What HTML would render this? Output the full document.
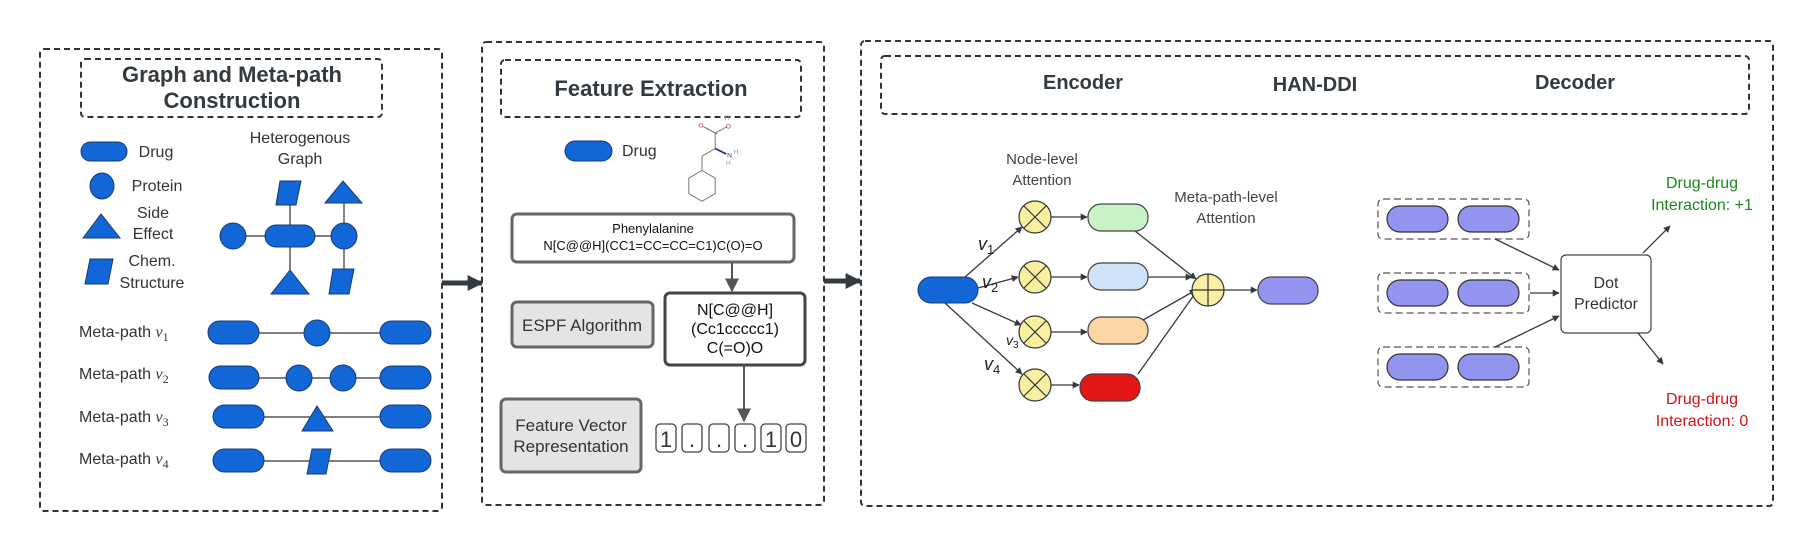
<!DOCTYPE html>
<html><head><meta charset="utf-8"><style>
html,body{margin:0;padding:0;background:#fff}
svg{display:block}
text{font-family:"Liberation Sans",sans-serif}
</style></head><body>
<svg width="1807" height="549" viewBox="0 0 1807 549" xmlns="http://www.w3.org/2000/svg">
<defs>
<marker id="a" viewBox="0 0 10 10" refX="9" refY="5" markerWidth="7" markerHeight="7" orient="auto" markerUnits="userSpaceOnUse"><path d="M0,0 L10,5 L0,10 z" fill="#333a40"/></marker>
<marker id="ab" viewBox="0 0 10 10" refX="9" refY="5" markerWidth="16" markerHeight="16" orient="auto" markerUnits="userSpaceOnUse"><path d="M0,0 L10,5 L0,10 z" fill="#333a40"/></marker>
<marker id="ag" viewBox="0 0 10 10" refX="9" refY="5" markerWidth="14" markerHeight="14" orient="auto" markerUnits="userSpaceOnUse"><path d="M0,0 L10,5 L0,10 z" fill="#555"/></marker>
</defs>
<g fill="none" stroke="#333" stroke-width="2" stroke-dasharray="6,4">
<rect x="40" y="49" width="402" height="462" rx="4"/>
<rect x="81" y="59" width="301" height="58" rx="4"/>
<rect x="482" y="42" width="342" height="463" rx="4"/>
<rect x="501" y="60" width="300" height="57" rx="4"/>
<rect x="861" y="41" width="912" height="465" rx="4"/>
<rect x="881" y="56" width="868" height="58" rx="4"/>
</g>
<g fill="#333a40" font-weight="bold" text-anchor="middle">
<text x="232" y="82" font-size="22">Graph and Meta-path</text>
<text x="232" y="108" font-size="22">Construction</text>
<text x="651" y="96" font-size="22">Feature Extraction</text>
<text x="1083" y="89" font-size="20">Encoder</text>
<text x="1315" y="91" font-size="20">HAN-DDI</text>
<text x="1575" y="89" font-size="20">Decoder</text>
</g>
<g fill="#1167d8" stroke="#1a3a70" stroke-width="1">
<rect x="81" y="142" width="46" height="19" rx="9.5"/>
<ellipse cx="102" cy="186" rx="12" ry="13"/>
<path d="M83,238 L101,214 L120,238 z"/>
<path d="M90,259 L113,259 L108,284 L85,284 z"/>
</g>
<g fill="#333" font-size="16" text-anchor="middle">
<text x="156" y="157">Drug</text>
<text x="157" y="191">Protein</text>
<text x="153" y="218">Side</text>
<text x="153" y="239">Effect</text>
<text x="152" y="266">Chem.</text>
<text x="152" y="288">Structure</text>
<text x="300" y="143">Heterogenous</text>
<text x="300" y="164">Graph</text>
</g>
<g stroke="#333" stroke-width="1.2">
<line x1="233" y1="236" x2="344" y2="236"/>
<line x1="290" y1="200" x2="290" y2="275"/>
<line x1="344" y1="200" x2="344" y2="275"/>
</g>
<g fill="#1167d8" stroke="#1a3a70" stroke-width="1">
<ellipse cx="233" cy="236" rx="13" ry="13"/>
<rect x="265" y="225" width="50" height="22" rx="11"/>
<ellipse cx="344" cy="236" rx="13" ry="13"/>
<path d="M280,181 L301,181 L296,205 L276,205 z"/>
<path d="M325,203 L343,181 L362,203 z"/>
<path d="M271,294 L290,270 L309,294 z"/>
<path d="M333,269 L354,269 L349,294 L329,294 z"/>
</g>
<g fill="#333" font-size="16">
<text x="79" y="337">Meta-path <tspan font-family="Liberation Serif" font-style="italic">v</tspan><tspan font-family="Liberation Serif" font-size="12" dy="4">1</tspan></text>
<text x="79" y="379">Meta-path <tspan font-family="Liberation Serif" font-style="italic">v</tspan><tspan font-family="Liberation Serif" font-size="12" dy="4">2</tspan></text>
<text x="79" y="422">Meta-path <tspan font-family="Liberation Serif" font-style="italic">v</tspan><tspan font-family="Liberation Serif" font-size="12" dy="4">3</tspan></text>
<text x="79" y="464">Meta-path <tspan font-family="Liberation Serif" font-style="italic">v</tspan><tspan font-family="Liberation Serif" font-size="12" dy="4">4</tspan></text>
</g>
<g stroke="#333" stroke-width="1.2">
<line x1="250" y1="333" x2="390" y2="333"/>
<line x1="250" y1="378" x2="390" y2="378"/>
<line x1="250" y1="417" x2="390" y2="417"/>
<line x1="250" y1="461" x2="390" y2="461"/>
</g>
<g fill="#1167d8" stroke="#1a3a70" stroke-width="1">
<rect x="208" y="321" width="51" height="23" rx="11.5"/><ellipse cx="317" cy="333" rx="13" ry="13"/><rect x="380" y="321" width="51" height="23" rx="11.5"/>
<rect x="209" y="366" width="50" height="23" rx="11.5"/><ellipse cx="299" cy="378" rx="13" ry="13"/><ellipse cx="343" cy="378" rx="13" ry="13"/><rect x="380" y="366" width="51" height="23" rx="11.5"/>
<rect x="213" y="405" width="51" height="23" rx="11.5"/><path d="M302,431 L317,406 L333,431 z"/><rect x="380" y="405" width="51" height="23" rx="11.5"/>
<rect x="213" y="449" width="51" height="23" rx="11.5"/><path d="M312,449 L331,449 L326,474 L307,474 z"/><rect x="380" y="449" width="51" height="23" rx="11.5"/>
</g>
<line x1="442" y1="283" x2="482" y2="283" stroke="#333a40" stroke-width="5" marker-end="url(#ab)"/>
<line x1="824" y1="281" x2="860" y2="281" stroke="#333a40" stroke-width="5" marker-end="url(#ab)"/>
<rect x="565" y="141" width="47" height="20" rx="10" fill="#1167d8" stroke="#1a3a70"/>
<text x="622" y="156" font-size="16" fill="#333">Drug</text>
<g transform="translate(702,165) scale(1.1) translate(-702,-165)">
<g stroke="#777" stroke-width="0.9" fill="none">
<polygon points="702,170 714,177 714,191 702,198 690,191 690,177"/>
<line x1="702" y1="170" x2="702" y2="157"/>
<line x1="702" y1="157" x2="714" y2="150"/>
<line x1="714" y1="150" x2="714" y2="136"/>
<line x1="714" y1="136" x2="725" y2="130"/>
<line x1="714" y1="136" x2="703" y2="130"/>
<line x1="716" y1="137" x2="705" y2="131"/>
</g>
<line x1="714" y1="150" x2="724" y2="155" stroke="#1a2a9a" stroke-width="1.6"/>
<g font-size="6" text-anchor="middle"><text x="701" y="131" fill="#c33">O</text><text x="726" y="132" fill="#c33">O</text><text x="725" y="124" fill="#999">H</text><text x="727" y="158" fill="#23a">N</text><text x="733" y="155" fill="#999">H</text><text x="726" y="165" fill="#999">H</text></g>
</g>
<rect x="512" y="214" width="282" height="48" rx="5" fill="#fff" stroke="#666" stroke-width="3"/>
<text x="653" y="219" font-size="13" fill="#111" text-anchor="middle" dy="14">Phenylalanine</text>
<text x="653" y="250" font-size="13" fill="#111" text-anchor="middle">N[C@@H](CC1=CC=CC=C1)C(O)=O</text>
<line x1="732" y1="262" x2="732" y2="291" stroke="#555" stroke-width="2" marker-end="url(#ag)"/>
<rect x="665" y="293" width="140" height="72" rx="5" fill="#fff" stroke="#444" stroke-width="3"/>
<g font-size="16" fill="#111" text-anchor="middle"><text x="735" y="315">N[C@@H]</text><text x="735" y="334">(Cc1ccccc1)</text><text x="735" y="353">C(=O)O</text></g>
<rect x="512" y="302" width="141" height="45" rx="5" fill="#e4e4e4" stroke="#666" stroke-width="3"/>
<text x="582" y="331" font-size="17" fill="#333" text-anchor="middle">ESPF Algorithm</text>
<line x1="744" y1="365" x2="744" y2="421" stroke="#555" stroke-width="2" marker-end="url(#ag)"/>
<rect x="501" y="399" width="140" height="73" rx="5" fill="#e4e4e4" stroke="#666" stroke-width="3"/>
<g font-size="17" fill="#333" text-anchor="middle"><text x="571" y="431">Feature Vector</text><text x="571" y="452">Representation</text></g>
<g fill="#fff" stroke="#444" stroke-width="1.3">
<rect x="656" y="424" width="20" height="28" rx="4"/><rect x="682" y="424" width="20" height="28" rx="4"/><rect x="709" y="424" width="20" height="28" rx="4"/><rect x="735" y="424" width="20" height="28" rx="4"/><rect x="761" y="424" width="20" height="28" rx="4"/><rect x="786" y="424" width="20" height="28" rx="4"/>
</g>
<g font-size="22" fill="#333" text-anchor="middle"><text x="666" y="447">1</text><text x="692" y="447">.</text><text x="719" y="447">.</text><text x="745" y="447">.</text><text x="771" y="447">1</text><text x="796" y="447">0</text></g>
<g fill="#444" font-size="15" text-anchor="middle">
<text x="1042" y="164">Node-level</text><text x="1042" y="185">Attention</text>
<text x="1226" y="202">Meta-path-level</text><text x="1226" y="223">Attention</text>
</g>
<g stroke="#333a40" stroke-width="1.3" fill="none" marker-end="url(#a)">
<line x1="965" y1="277" x2="1022" y2="227"/>
<line x1="978" y1="288" x2="1018" y2="277"/>
<line x1="972" y1="303" x2="1021" y2="325"/>
<line x1="945" y1="303" x2="1022" y2="374"/>
<line x1="1051" y1="217" x2="1087" y2="217"/>
<line x1="1051" y1="277" x2="1087" y2="277"/>
<line x1="1051" y1="332" x2="1087" y2="332"/>
<line x1="1051" y1="385" x2="1079" y2="385"/>
<line x1="1135" y1="231" x2="1196" y2="279"/>
<line x1="1148" y1="277" x2="1192" y2="277"/>
<line x1="1143" y1="320" x2="1196" y2="290"/>
<line x1="1138" y1="374" x2="1199" y2="288"/>
<line x1="1224" y1="290" x2="1257" y2="290"/>
</g>
<g font-family="Liberation Serif" font-style="italic" fill="#222">
<text x="978" y="250" font-size="18">v<tspan font-size="13" dy="4" font-style="normal">1</tspan></text>
<text x="982" y="288" font-size="18">v<tspan font-size="13" dy="4" font-style="normal">2</tspan></text>
<text x="1006" y="345" font-size="14">v<tspan font-size="10" dy="3" font-style="normal">3</tspan></text>
<text x="984" y="370" font-size="18">v<tspan font-size="13" dy="4" font-style="normal">4</tspan></text>
</g>
<rect x="918" y="277" width="60" height="26" rx="13" fill="#1167d8" stroke="#1a3a70"/>
<g fill="#f8f0a0" stroke="#333" stroke-width="1.2">
<circle cx="1035" cy="217" r="16"/><circle cx="1035" cy="277" r="16"/><circle cx="1035" cy="332" r="16"/><circle cx="1035" cy="385" r="16"/><circle cx="1208" cy="290" r="16"/>
</g>
<g stroke="#333" stroke-width="1.2">
<path d="M1024,206 L1046,228 M1046,206 L1024,228"/><path d="M1024,266 L1046,288 M1046,266 L1024,288"/><path d="M1024,321 L1046,343 M1046,321 L1024,343"/><path d="M1024,374 L1046,396 M1046,374 L1024,396"/>
<path d="M1192,290 L1224,290 M1208,274 L1208,306"/>
</g>
<g stroke="#444" stroke-width="1.2">
<rect x="1088" y="204" width="60" height="27" rx="13" fill="#c8f2c8"/>
<rect x="1088" y="263" width="60" height="27" rx="13" fill="#cfe2f8"/>
<rect x="1088" y="317" width="60" height="27" rx="13" fill="#fcd6a4"/>
<rect x="1080" y="374" width="60" height="27" rx="13" fill="#e31515"/>
<rect x="1258" y="277" width="60" height="27" rx="13" fill="#9393f0"/>
</g>
<g fill="none" stroke="#555" stroke-width="1.2" stroke-dasharray="7,4">
<rect x="1378" y="199" width="151" height="40" rx="5"/>
<rect x="1378" y="273" width="151" height="40" rx="5"/>
<rect x="1378" y="347" width="151" height="40" rx="5"/>
</g>
<g fill="#9393f0" stroke="#333" stroke-width="1.2">
<rect x="1387" y="206" width="61" height="26" rx="13"/><rect x="1458" y="206" width="61" height="26" rx="13"/>
<rect x="1387" y="280" width="61" height="26" rx="13"/><rect x="1458" y="280" width="61" height="26" rx="13"/>
<rect x="1387" y="354" width="61" height="26" rx="13"/><rect x="1458" y="354" width="61" height="26" rx="13"/>
</g>
<g stroke="#333a40" stroke-width="1.3" marker-end="url(#a)">
<line x1="1495" y1="239" x2="1559" y2="270"/>
<line x1="1530" y1="293" x2="1559" y2="293"/>
<line x1="1495" y1="347" x2="1559" y2="316"/>
<line x1="1643" y1="253" x2="1670" y2="226"/>
<line x1="1638" y1="333" x2="1663" y2="364"/>
</g>
<rect x="1561" y="255" width="90" height="78" rx="5" fill="#fff" stroke="#444" stroke-width="1.2"/>
<g font-size="16" fill="#333" text-anchor="middle"><text x="1606" y="288">Dot</text><text x="1606" y="309">Predictor</text></g>
<g font-size="16" text-anchor="middle">
<text x="1702" y="188" fill="#1a8a1a">Drug-drug</text><text x="1702" y="210" fill="#1a8a1a">Interaction: +1</text>
<text x="1702" y="404" fill="#d01414">Drug-drug</text><text x="1702" y="426" fill="#d01414">Interaction: 0</text>
</g>
</svg>
</body></html>
